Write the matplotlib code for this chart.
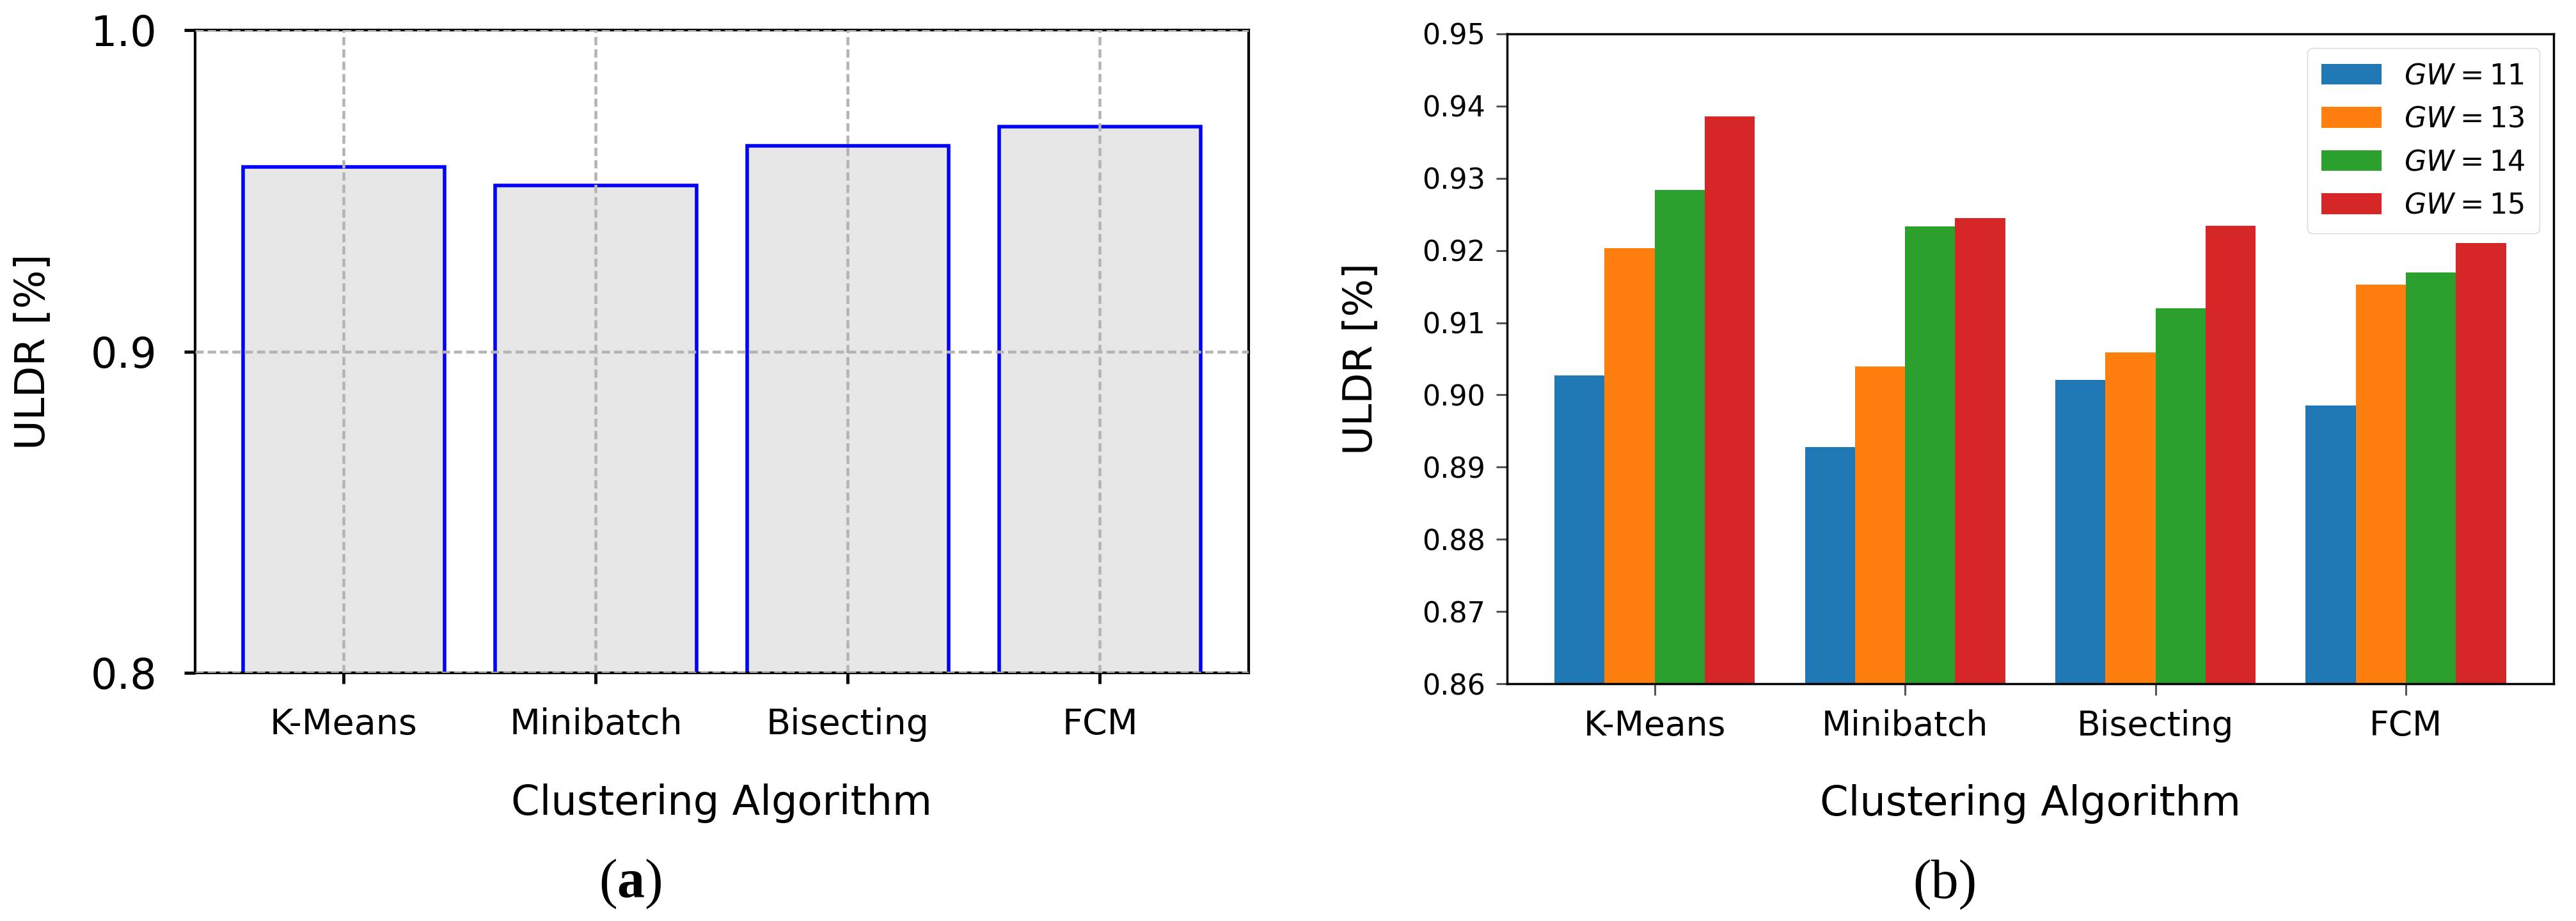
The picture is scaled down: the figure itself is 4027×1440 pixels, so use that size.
import numpy as np
import matplotlib
matplotlib.use('Agg')
import matplotlib.pyplot as plt

algorithms = ['K-Means', 'Minibatch', 'Bisecting', 'FCM']

# panel (a): ULDR per algorithm
uldr_a = [0.9574, 0.9516, 0.9640, 0.9700]

# panel (b): ULDR per algorithm for each GW
gw_labels = [r'$GW = 11$', r'$GW = 13$', r'$GW = 14$', r'$GW = 15$']
gw11 = [0.9027, 0.8928, 0.9021, 0.8985]
gw13 = [0.9203, 0.9039, 0.9059, 0.9153]
gw14 = [0.9284, 0.9233, 0.9120, 0.9170]
gw15 = [0.9386, 0.9245, 0.9234, 0.9210]
gw_colors = ['#1f77b4', '#ff7f0e', '#2ca02c', '#d62728']

plt.rcParams['mathtext.fontset'] = 'custom'
plt.rcParams['mathtext.rm'] = 'DejaVu Sans'
plt.rcParams['mathtext.it'] = 'DejaVu Sans:italic'
plt.rcParams['mathtext.bf'] = 'Liberation Serif:bold'

fig = plt.figure(figsize=(40.27, 14.4), dpi=100)

# ---------- (a) ----------
ax1 = fig.add_axes([0.0757, 0.2694, 0.409, 0.698])
x = np.arange(len(algorithms))
ax1.bar(x, uldr_a, width=0.8, color='#e6e6e6', edgecolor='blue', linewidth=4, zorder=1)
ax1.set_ylim(0.8, 1.0)
ax1.set_yticks([0.8, 0.9, 1.0])
ax1.set_yticklabels(['0.8', '0.9', '1.0'])
ax1.set_xticks(x)
ax1.set_xticklabels(algorithms)
ax1.grid(True, linestyle=(0, (2.8, 1.4)), color='#b4b4b4', linewidth=3.3, zorder=2)
ax1.set_axisbelow(False)
ax1.tick_params(axis='y', labelsize=47, length=12, width=3.5, pad=31)
ax1.tick_params(axis='x', labelsize=40, length=12, width=3.5, pad=27)
for s in ax1.spines.values():
    s.set_linewidth(3)
ax1.set_ylabel('ULDR [%]', fontsize=46)
ax1.yaxis.set_label_coords(-0.135, 0.5)
ax1.set_xlabel('Clustering Algorithm', fontsize=46)
ax1.xaxis.set_label_coords(0.5, -0.172)

# ---------- (b) ----------
ax2 = fig.add_axes([0.585, 0.2576, 0.4063, 0.7056])
w = 0.2
series = [gw11, gw13, gw14, gw15]
for i, vals in enumerate(series):
    ax2.bar(x + (i - 1.5) * w, vals, width=w, color=gw_colors[i], label=gw_labels[i])
yt = np.arange(0.86, 0.951, 0.01)
ax2.set_ylim(0.86, 0.95)
ax2.set_yticks(yt)
ax2.set_yticklabels([f'{v:.2f}' for v in yt])
ax2.set_xticks(x)
ax2.set_xticklabels(algorithms)
ax2.tick_params(axis='y', labelsize=32, length=12, width=2.2, pad=12, color='#555555')
ax2.tick_params(axis='x', labelsize=38.5, length=13, width=2.2, pad=16, color='#555555')
for s in ax2.spines.values():
    s.set_linewidth(2.5)
ax2.set_ylabel('ULDR [%]', fontsize=45)
ax2.yaxis.set_label_coords(-0.121, 0.5)
ax2.set_xlabel('Clustering Algorithm', fontsize=46)
ax2.xaxis.set_label_coords(0.5, -0.1545)
ax2.legend(loc='upper right', fontsize=32, handlelength=2.1, handleheight=0.75,
           handletextpad=0.8, borderpad=0.5, labelspacing=0.55, borderaxespad=0.5,
           framealpha=0.8)

# captions
fig.text(0.2446, 0.04, r'($\mathbf{a}$)', fontsize=62, family='Liberation Serif',
         ha='center', va='center')
fig.text(0.755, 0.04, '(b)', fontsize=62, family='Liberation Serif',
         ha='center', va='center')

fig.savefig('out.png', dpi=100)
